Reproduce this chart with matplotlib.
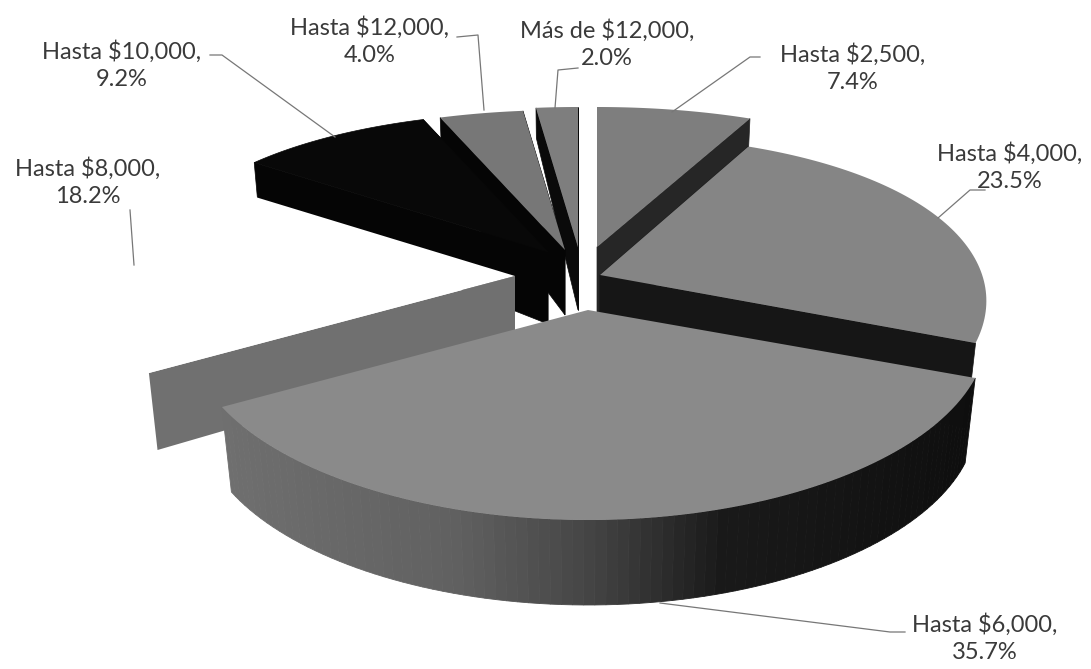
# -*- coding: utf-8 -*-
import numpy as np
import matplotlib
matplotlib.use('Agg')
import matplotlib.pyplot as plt

plt.rcParams['font.family'] = ['Lato', 'DejaVu Sans']

# Datos
categorias = ['Hasta $2,500', 'Hasta $4,000', 'Hasta $6,000', 'Hasta $8,000',
              'Hasta $10,000', 'Hasta $12,000', 'Más de $12,000']
porcentajes = [7.4, 23.5, 35.7, 18.2, 9.2, 4.0, 2.0]

# Vertice de cada rebanada (pie explotado), en pixeles
vertices = [(597, 247), (600, 275), (588, 310), (515, 276), (548, 252), (565, 250), (578, 247)]
escala_x = [1.0, 0.97, 1.0, 1.0, 1.0, 1.0, 1.0]
prof_max = [85, 85, 85, 77, 85, 85, 85]
prof_vertice = [70, 70, 70, 70, 72, 65, 63]
color_tapa = ['#7e7e7e', '#858585', '#8a8a8a', '#ffffff', '#080808', '#777777', '#7e7e7e']
color_pared = ['#262626', '#161616', None, '#707070', '#050505', '#050505', '#0a0a0a']
orden = [6, 5, 4, 0, 3, 1, 2]

# Etiquetas: centro del texto y linea guia
pos_texto = [(853, 68), (1010, 167), (985, 638), (88, 182), (122, 65), (370, 41), (607, 44)]
guias = [[(672, 112), (750, 57), (760, 57)],
         [(938, 218), (970, 190), (985, 190)],
         [(660, 603), (890, 632), (905, 632)],
         [(130, 210), (134, 265)],
         [(210, 55), (222, 55), (335, 137)],
         [(457, 37), (478, 35), (484, 110)],
         [(555, 108), (558, 70), (578, 68)]]

RX = 394
RY = 175


def tapa(i, ang):
    # proyeccion con perspectiva del disco unitario
    vx, vy = vertices[i]
    u = np.cos(np.radians(ang))
    v = np.sin(np.radians(ang))
    x = vx + RX * escala_x[i] * u * (1 - 0.15 * v)
    y = vy - RY * v * (1 - 0.2 * v)
    return x, y


def base(i, ang):
    vx, vy = vertices[i]
    x, y = tapa(i, ang)
    v = np.sin(np.radians(ang))
    d = np.minimum(prof_max[i], 70 - 40 * v if v > 0 else 70 - 60 * v)
    return vx + (x - vx) * (1 - 0.026 * d / 85), y + d


def gris_borde(ang):
    # sombreado de la pared curva frontal
    u = np.cos(np.radians(ang))
    g = np.interp(u, [-1, -0.3, 0, 0.3, 1], [0.45, 0.38, 0.27, 0.1, 0.05])
    return str(g)


fig = plt.figure(figsize=(10.91, 6.69), dpi=100)
ax = fig.add_axes([0, 0, 1, 1])
ax.set_xlim(0, 1091)
ax.set_ylim(669, 0)
ax.axis('off')

acum = np.cumsum([0] + porcentajes)
ang_ini = 90 - acum[:-1] * 3.6
ang_fin = 90 - acum[1:] * 3.6

for i in orden:
    vx, vy = vertices[i]
    a1, a2 = ang_ini[i], ang_fin[i]
    zorder = orden.index(i) * 3 + 1

    # paredes radiales; la rebanada blanca solo muestra la de adelante
    if color_pared[i] is not None:
        for a in ((a1,) if i == 3 else (a1, a2)):
            xt, yt = tapa(i, a)
            xb, yb = base(i, a)
            ax.fill([vx, xt, xb, vx], [vy, yt, yb, vy + prof_vertice[i]], color=color_pared[i],
                    lw=0.5 if i != 3 else 0, zorder=zorder)

    # pared curva, solo la rebanada frontal
    if i == 2:
        pasos = np.linspace(a1, a2, 90)
        for a, b in zip(pasos[:-1], pasos[1:]):
            xt1, yt1 = tapa(i, a)
            xt2, yt2 = tapa(i, b)
            xb1, yb1 = base(i, a)
            xb2, yb2 = base(i, b)
            ax.fill([xt1, xt2, xb2, xb1], [yt1, yt2, yb2, yb1], color=gris_borde((a + b) / 2),
                    lw=0.6, zorder=zorder)

    # tapa
    t = np.linspace(a1, a2, 80)
    xs, ys = tapa(i, t)
    ax.fill(np.r_[vx, xs], np.r_[vy, ys], color=color_tapa[i], lw=0.5 if i == 4 else 0, zorder=zorder + 1)

# Etiquetas
for i in range(len(categorias)):
    ax.plot([p[0] for p in guias[i]], [p[1] for p in guias[i]], color='#777777', lw=0.9, zorder=40)
    ax.text(pos_texto[i][0], pos_texto[i][1], categorias[i] + ',\n' + '%.1f%%' % porcentajes[i],
            ha='center', va='center', fontsize=17, color='#3a3a3a', linespacing=1.4, zorder=41)

fig.savefig('out.png', dpi=100)
